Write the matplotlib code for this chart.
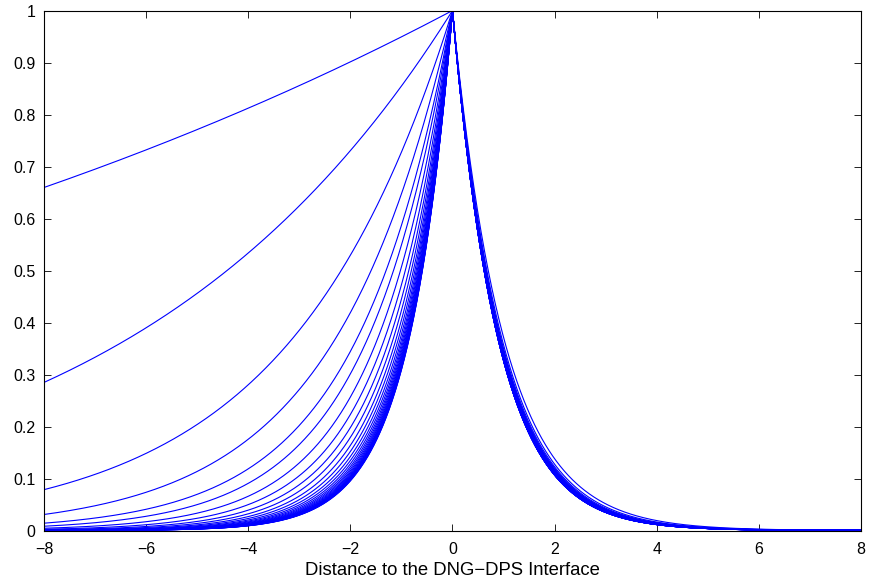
import numpy as np
import matplotlib.pyplot as plt

#=====DATA=======================================#
# decay constant of each field profile on the DNG side (x<0), 1/unit
left_rate = [0.052, 0.157, 0.318, 0.435, 0.533, 0.600, 0.680, 0.750, 0.810,
             0.860, 0.905, 0.942, 0.975, 1.003, 1.027, 1.048, 1.066, 1.082,
             1.096, 1.108, 1.119, 1.128, 1.136, 1.143, 1.149, 1.155, 1.160,
             1.164, 1.168, 1.172, 1.175]
# decay constant of the same profiles on the DPS side (x>0)
right_rate = [0.990, 1.030, 1.050, 1.062, 1.070, 1.077, 1.083, 1.088, 1.092,
              1.096, 1.099, 1.102, 1.104, 1.106, 1.108, 1.110, 1.111, 1.112,
              1.113, 1.114, 1.115, 1.116, 1.117, 1.117, 1.118, 1.118, 1.119,
              1.119, 1.120, 1.120, 1.120]
xticks = [-8, -6, -4, -2, 0, 2, 4, 6, 8]
yticks = [0, 0.1, 0.2, 0.3, 0.4, 0.5, 0.6, 0.7, 0.8, 0.9, 1]
ytick_labels = ["0", "0.1", "0.2", "0.3", "0.4", "0.5", "0.6", "0.7", "0.8", "0.9", "1"]
#================================================#

plt.rcParams['font.family'] = ['Liberation Sans', 'DejaVu Sans']

x = np.linspace(-8, 8, 1601)

fig = plt.figure(figsize=(8.7, 5.84), dpi=100)
ax = fig.add_axes([0.0506, 0.0916, 0.939, 0.8904])

for a, b in zip(left_rate, right_rate):
    field = np.where(x < 0, np.exp(a * x), np.exp(-b * x))
    ax.plot(x, field, color=(0, 0, 1), lw=0.8)

ax.set_xlim(-8, 8)
ax.set_ylim(0, 1)
ax.set_xticks(xticks)
ax.set_yticks(yticks)
ax.set_yticklabels(ytick_labels)
ax.tick_params(direction='in', length=5, width=0.6, top=True, right=True,
               labelsize=11.5)
ax.tick_params(axis='x', pad=8)
ax.tick_params(axis='y', pad=6)
for s in ax.spines.values():
    s.set_linewidth(0.8)
ax.set_xlabel("Distance to the DNG\u2212DPS Interface", fontsize=13.3, labelpad=4)

fig.savefig("out.png", dpi=100)
